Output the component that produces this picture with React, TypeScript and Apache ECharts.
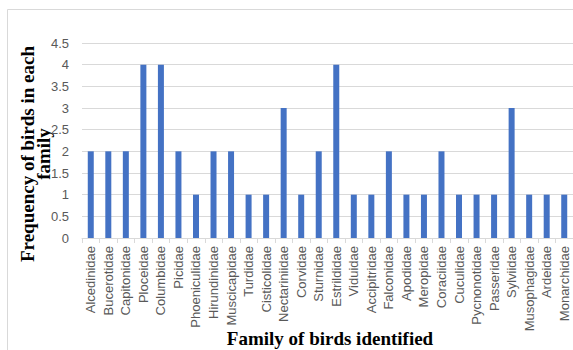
import React, { useEffect, useRef } from "react";
import * as echarts from "echarts";

const families = [
  "Alcedinidae", "Bucerotidae", "Capitonidae", "Ploceidae", "Columbidae", "Picidae",
  "Phoeniculidae", "Hirundinidae", "Muscicapidae", "Turdidae", "Cisticolidae",
  "Nectariniidae", "Corvidae", "Sturnidae", "Estrildidae", "Viduidae", "Accipitridae",
  "Falconidae", "Apodidae", "Meropidae", "Coraciidae", "Cuculidae", "Pycnonotidae",
  "Passeridae", "Sylviidae", "Musophagidae", "Ardeidae", "Monarchidae",
];
const frequency = [2, 2, 2, 4, 4, 2, 1, 2, 2, 1, 1, 3, 1, 2, 4, 1, 1, 2, 1, 1, 2, 1, 1, 1, 3, 1, 1, 1];
const yTitle = "Frequency of birds in each\nfamily";
const xTitle = "Family of birds identified";

export default function App() {
  const ref = useRef<HTMLDivElement>(null);
  useEffect(() => {
    const chart = echarts.init(ref.current!, null, { renderer: "svg" });
    chart.setOption({
      animation: false,
      backgroundColor: "#ffffff",
      grid: { left: 82, right: -4, top: 43, bottom: 112, containLabel: false },
      xAxis: {
        type: "category",
        data: families,
        axisLine: { lineStyle: { color: "#d9d9d9" } },
        axisTick: { show: true, length: 5, lineStyle: { color: "#d9d9d9" } },
        axisLabel: {
          rotate: 90,
          interval: 0,
          margin: 8,
          color: "#595959",
          fontFamily: "Liberation Sans",
          fontSize: 13,
        },
      },
      yAxis: {
        type: "value",
        min: 0,
        max: 4.5,
        interval: 0.5,
        axisLine: { show: false },
        axisTick: { show: false },
        splitLine: { lineStyle: { color: "#d9d9d9" } },
        axisLabel: {
          margin: 13,
          color: "#595959",
          fontFamily: "Liberation Sans",
          fontSize: 13,
        },
      },
      series: [
        {
          type: "bar",
          data: frequency,
          barWidth: 6,
          itemStyle: { color: "#4472C4" },
        },
      ],
      graphic: [
        {
          type: "rect",
          shape: { x: 7.5, y: 9.5, width: 600, height: 400 },
          style: { fill: "none", stroke: "#d9d9d9", lineWidth: 1 },
          silent: true,
        },
        {
          type: "text",
          x: 35,
          y: 154,
          rotation: Math.PI / 2,
          style: {
            text: yTitle,
            fontFamily: "Liberation Serif",
            fontWeight: "bold",
            fontSize: 19,
            lineHeight: 16,
            fill: "#000000",
            textAlign: "center",
            textVerticalAlign: "middle",
          },
        },
        {
          type: "text",
          x: 330,
          y: 338,
          style: {
            text: xTitle,
            fontFamily: "Liberation Serif",
            fontWeight: "bold",
            fontSize: 19,
            fill: "#000000",
            textAlign: "center",
            textVerticalAlign: "middle",
          },
        },
      ],
    });
    return () => chart.dispose();
  }, []);
  return (
    <div
      ref={ref}
      style={{ position: "fixed", left: 0, top: 0, width: 573, height: 350 }}
    />
  );
}
